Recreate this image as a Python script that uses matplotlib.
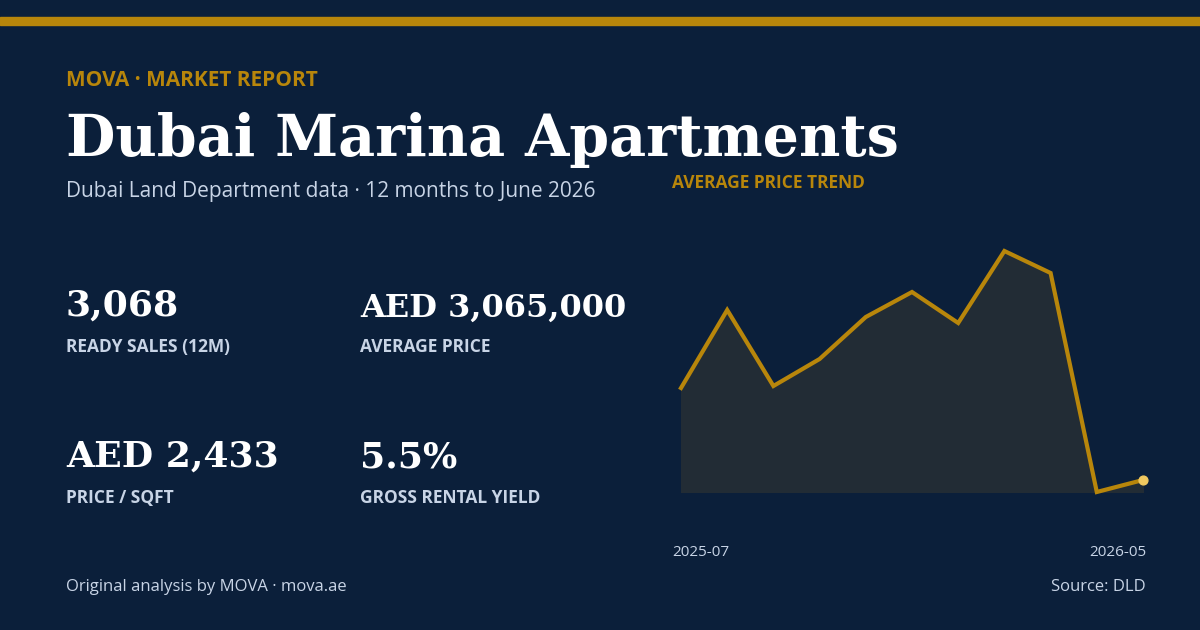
import matplotlib
matplotlib.use("Agg")
import matplotlib.pyplot as plt

months = ["2025-07","2025-08","2025-09","2025-10","2025-11","2025-12","2026-01","2026-02","2026-03","2026-04","2026-05"]
avg_price_m = [2.808, 2.964, 2.812, 2.866, 2.950, 3.000, 2.938, 3.082, 3.038, 2.600, 2.624]
kpi_values = ["3,068", "AED 3,065,000", "AED 2,433", "5.5%"]
kpi_labels = ["READY SALES (12M)", "AVERAGE PRICE", "PRICE / SQFT", "GROSS RENTAL YIELD"]

BG = "#0b1f3a"; GOLD = "#b8860b"; LIGHT = "#c8d4e6"; W, H = 1200, 630
fig = plt.figure(figsize=(12, 6.3), dpi=100, facecolor=BG)

def T(x, y, s, **kw):
    fig.text(x / W, 1 - y / H, s, va="center", ha=kw.pop("ha", "left"), **kw)

fig.patches.append(plt.Rectangle((0, 1 - 25 / H), 1, 8 / H, transform=fig.transFigure, color=GOLD))
sans = ["Open Sans", "DejaVu Sans"]
T(66, 81, "MOVA · MARKET REPORT", color=GOLD, fontsize=15, fontweight="bold", family=sans)
T(66, 140, "Dubai Marina Apartments", color="white", fontsize=41, fontweight="bold", family="DejaVu Serif")
T(66, 191, "Dubai Land Department data · 12 months to June 2026", color=LIGHT, fontsize=15, family=sans)
T(672, 183, "AVERAGE PRICE TREND", color=GOLD, fontsize=12.5, fontweight="bold", family=sans)
pos = [(66, 306, 347), (360, 308, 347), (66, 457, 498), (360, 457, 498)]
for (x, yv, yl), v, l in zip(pos, kpi_values, kpi_labels):
    T(x, yv, v, color="white", fontsize=26 if len(v) < 10 else 23, fontweight="bold", family="DejaVu Serif")
    T(x, yl, l, color=LIGHT, fontsize=12.5, fontweight="bold", family=sans)
T(672, 553, months[0], color=LIGHT, fontsize=11, family=sans)
T(1146, 553, months[-1], color=LIGHT, fontsize=11, family=sans, ha="right")
T(66, 587, "Original analysis by MOVA · mova.ae", color=LIGHT, fontsize=12, family=sans)
T(1146, 587, "Source: DLD", color=LIGHT, fontsize=12, family=sans, ha="right")

ax = fig.add_axes([681 / W, 1 - 492 / H, (1143 - 681) / W, (492 - 251) / H])
ax.set_facecolor("none")
x = list(range(len(months)))
lo = min(avg_price_m)
ax.fill_between(x, lo, avg_price_m, color="#222c35", zorder=1)
ax.plot(x, avg_price_m, color=GOLD, lw=3, zorder=2, solid_joinstyle="miter", clip_on=False)
ax.scatter([x[-1]], [avg_price_m[-1]], color="#f0c860", s=40, zorder=3, clip_on=False)
ax.set_xlim(0, len(x) - 1); ax.set_ylim(lo, max(avg_price_m))
ax.axis("off")
fig.savefig("out.png", facecolor=BG)
